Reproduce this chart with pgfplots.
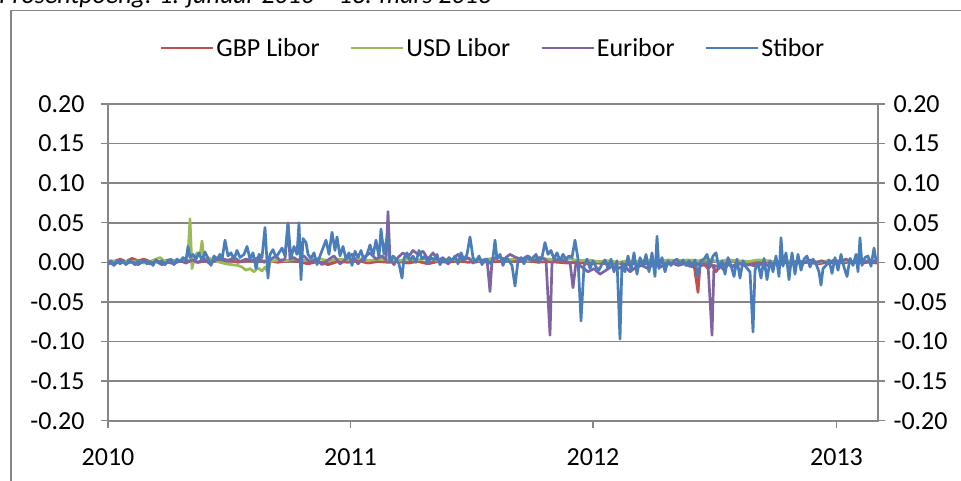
\documentclass[border=0pt]{standalone}
\usepackage{fontspec}
\setmainfont{Carlito}
\usepackage{pgfplots}
\pgfplotsset{compat=1.18}
\definecolor{gbp}{HTML}{C0504D}
\definecolor{usd}{HTML}{9BBB59}
\definecolor{eur}{HTML}{8064A2}
\definecolor{sti}{HTML}{4A7EBB}
\definecolor{gridg}{HTML}{868686}
\newcommand{\bigf}{\fontsize{26}{30}\selectfont}
\pgfplotsset{
  common/.style={
    at={(108pt,60.3pt)}, anchor=south west, scale only axis,
    width=770pt, height=316.8pt,
    xmin=0, xmax=770, ymin=-0.2, ymax=0.2,
    ytick={-0.2,-0.15,-0.1,-0.05,0,0.05,0.1,0.15,0.2},
    yticklabel style={/pgf/number format/fixed, /pgf/number format/fixed zerofill, /pgf/number format/precision=2, /pgf/number format/assume math mode=true},
    tick label style={font=\bigf},
    tick align=outside, major tick length=7pt,
    tick style={draw=gridg, line width=1.5pt},
    axis line style={draw=gridg, line width=1.8pt},
  }
}
\begin{document}
\begin{tikzpicture}[x=1pt,y=1pt]
\useasboundingbox (0,0) rectangle (961,481);
\draw[gridg, line width=1.5pt] (11,-20) rectangle (990,470.3);
\node[anchor=base west, font=\bigf\itshape, inner sep=0] at (-1,477.5) {Prosentpoeng. 1. januar 2010 -- 13. mars 2013};
\begin{axis}[common,
  xtick={0,242.5,485,728.5}, xticklabels={2010,2011,2012,2013},
  xtick pos=bottom, ytick pos=left,
  xticklabel style={yshift=-17pt},
  yticklabel style={xshift=-13pt},
  ymajorgrids, major grid style={draw=gridg, line width=1.8pt},
  legend columns=4,
  legend style={at={(0.5,1.176)}, anchor=center, draw=none, fill=none, font=\bigf,
    /tikz/every even column/.append style={column sep=28pt}},
  legend image code/.code={\draw[#1] (0pt,0pt) -- (52pt,0pt);},
  every axis plot/.append style={line width=2.7pt, line join=round},
]
\addplot[gbp] table {
0 0.002
6 0.000
12 0.004
18 0.001
24 0.005
30 0.002
36 0.004
42 0.001
48 0.002
54 0.000
60 0.003
70 0.001
80 0.002
90 0.000
100 0.002
110 0.001
120 0.003
130 0.000
140 0.002
150 0.001
160 0.002
170 0.000
180 0.002
190 0.001
200 -0.002
210 0.001
220 -0.003
230 0.001
240 0.000
250 0.002
260 -0.001
270 0.001
280 0.000
290 0.001
300 -0.001
310 0.001
320 -0.002
330 0.001
340 0.000
350 0.002
360 0.000
370 0.001
380 0.000
390 0.001
400 0.002
410 0.001
420 0.002
430 0.000
440 0.001
450 0.000
460 -0.001
470 0.000
480 -0.002
490 -0.001
500 -0.002
510 -0.001
520 -0.003
530 -0.001
540 -0.002
550 0.000
560 -0.001
570 -0.002
580 -0.001
586 -0.003
590 -0.038
592 -0.004
596 -0.002
600 -0.008
604 -0.003
608 -0.012
612 -0.004
616 -0.010
620 -0.002
625 -0.006
630 -0.001
640 -0.003
650 -0.001
660 0.000
670 -0.002
680 0.000
690 -0.001
700 0.000
710 -0.002
720 0.000
730 -0.001
740 0.000
750 -0.001
760 0.000
770 -0.001
};
\addlegendentry{GBP Libor}
\addplot[usd] table {
0 0.000
6 0.002
12 -0.001
18 0.001
24 0.000
30 0.002
36 -0.001
42 0.001
48 0.004
52 0.006
56 0.002
62 0.000
68 0.003
74 0.001
78 0.004
80 0.010
82 0.055
84 -0.008
86 0.004
89 0.012
92 0.008
94 0.027
96 0.004
100 0.006
106 0.002
112 0.000
118 -0.002
124 -0.003
130 -0.004
134 -0.006
138 -0.010
142 -0.008
146 -0.012
150 -0.007
154 -0.011
157 -0.006
160 -0.013
162 0.000
166 0.002
172 0.003
178 0.002
186 0.004
194 0.002
202 0.003
210 0.005
220 0.002
230 0.004
240 0.003
250 0.005
260 0.002
270 0.004
280 0.003
290 0.002
300 0.004
310 0.003
320 0.005
330 0.002
340 0.004
350 0.003
360 0.005
370 0.002
380 0.004
390 0.006
400 0.003
410 0.005
420 0.002
430 0.006
440 0.004
450 0.003
460 0.005
470 0.002
480 0.003
490 0.001
500 0.002
510 0.000
520 0.002
530 0.001
540 0.003
550 0.001
560 0.003
570 0.002
580 0.003
590 0.002
600 0.004
610 0.001
620 0.003
630 0.002
640 0.001
650 0.003
660 0.002
670 0.000
680 0.002
690 0.001
700 0.002
710 0.000
720 0.002
730 0.001
740 0.002
750 0.000
760 0.002
770 0.001
};
\addlegendentry{USD Libor}
\addplot[eur] table {
0 0.000
6 -0.003
12 0.002
18 -0.002
24 0.001
30 -0.003
36 0.002
42 -0.002
48 0.001
54 -0.003
60 0.000
66 -0.002
72 0.002
78 -0.001
84 0.003
90 0.000
96 0.004
102 -0.002
108 0.003
114 0.005
120 0.002
126 0.006
132 0.001
138 0.004
144 0.002
150 0.006
156 0.000
162 0.003
168 0.008
172 0.002
177 0.004
180 0.050
182 0.004
186 0.006
190 0.002
196 0.008
202 0.000
208 0.004
214 -0.003
220 0.003
226 0.008
232 -0.002
238 0.004
244 0.010
250 -0.002
256 0.006
262 0.012
268 0.004
274 0.008
278 0.003
280 0.064
282 0.004
286 -0.003
290 0.006
295 0.012
300 0.006
305 0.015
310 0.010
315 0.014
320 0.004
325 0.012
330 0.002
335 0.006
340 -0.002
345 0.004
350 0.010
355 0.002
360 0.006
365 -0.001
370 0.005
375 0.002
379 0.004
382 -0.037
384 0.002
390 0.008
396 0.004
402 0.010
408 0.006
414 0.004
420 0.008
426 0.002
432 0.006
438 0.003
442 -0.092
444 0.000
450 0.004
456 0.002
462 0.000
465 -0.032
468 0.000
474 -0.006
480 -0.012
486 -0.008
492 -0.015
498 -0.010
504 -0.005
510 -0.008
516 -0.004
522 -0.012
528 -0.006
534 -0.004
540 -0.008
546 -0.002
552 -0.006
558 -0.003
564 -0.001
570 -0.004
576 -0.002
582 -0.005
588 -0.002
594 -0.004
600 -0.002
604 -0.092
606 -0.004
612 -0.006
618 -0.002
624 -0.005
630 -0.001
636 -0.004
642 -0.003
648 -0.005
654 -0.002
660 -0.004
666 -0.001
672 -0.003
678 0.000
684 -0.002
690 0.002
696 -0.001
702 0.003
708 0.000
714 0.002
720 -0.002
726 0.003
732 0.001
738 0.004
744 0.000
750 0.002
756 -0.001
762 0.003
770 0.000
};
\addlegendentry{Euribor}
\addplot[sti] table {
0 -0.003
3 0.002
6 -0.004
9 0.003
12 -0.002
15 0.002
18 -0.003
21 0.003
24 0.000
27 -0.003
30 0.002
33 -0.001
36 0.003
39 -0.002
42 0.001
45 -0.004
48 0.003
51 -0.001
54 0.002
57 -0.003
60 0.002
63 0.004
66 -0.003
69 0.004
72 0.001
75 0.006
78 0.003
80 0.020
82 0.006
85 0.010
88 0.004
91 0.012
94 0.002
97 0.013
100 0.005
103 -0.004
106 0.008
109 0.004
112 0.010
114 0.003
117 0.028
120 0.008
123 0.012
126 0.004
129 0.015
132 0.006
136 0.010
139 0.020
142 0.004
145 0.012
148 -0.008
151 0.010
154 0.006
157 0.044
160 -0.020
162 0.010
165 0.016
168 0.006
171 0.012
174 0.018
177 0.008
180 0.048
183 0.005
186 0.020
189 0.010
191 0.050
193 -0.022
195 0.030
198 0.025
200 0.010
203 0.005
206 0.012
209 -0.003
212 0.008
215 0.018
218 0.028
221 0.010
224 0.038
227 0.015
229 0.032
232 0.008
235 0.020
238 0.004
241 0.012
244 -0.004
247 0.014
250 0.006
253 0.015
256 0.002
259 0.010
262 0.022
265 0.008
268 0.028
271 0.006
273 0.042
276 0.010
279 0.032
282 0.000
285 0.008
288 0.004
291 -0.002
294 -0.020
296 0.005
299 0.012
302 0.002
305 0.008
308 0.000
311 0.015
314 0.004
317 0.008
320 -0.002
323 0.006
326 0.003
329 0.010
332 -0.003
335 0.004
338 0.000
341 0.006
344 0.002
347 0.008
350 -0.002
353 0.012
356 0.003
359 0.010
362 0.032
365 0.006
368 0.000
371 0.008
374 -0.003
377 0.004
380 0.002
383 -0.002
385 0.006
387 0.028
389 0.004
392 0.010
395 -0.004
398 0.006
401 0.002
404 -0.004
407 -0.030
410 0.002
413 0.006
416 -0.002
419 0.008
422 0.003
425 0.006
428 0.010
431 0.000
434 0.006
437 0.025
440 0.010
443 0.015
446 0.004
449 0.012
452 0.002
455 0.010
458 0.004
461 0.008
464 0.006
467 0.028
470 0.004
473 -0.074
476 -0.005
479 0.004
482 -0.008
485 0.002
488 -0.006
491 -0.010
494 -0.002
497 0.003
500 -0.008
503 0.004
506 -0.012
509 0.002
512 -0.097
514 0.000
517 -0.012
520 0.008
523 -0.010
526 0.012
529 -0.015
532 0.006
535 -0.005
538 0.010
541 -0.012
544 0.012
547 -0.018
549 0.033
551 -0.008
554 0.006
557 -0.012
560 0.002
563 -0.004
566 0.002
569 0.004
572 -0.002
575 0.003
578 -0.004
581 0.002
584 -0.006
587 0.003
590 -0.018
593 0.002
596 0.004
599 0.010
602 -0.005
605 0.008
608 0.012
611 -0.008
614 0.002
617 -0.015
620 0.006
623 -0.004
626 -0.018
629 0.004
632 -0.020
635 0.002
638 -0.006
642 -0.012
645 -0.088
647 -0.010
650 0.000
653 -0.020
656 0.005
659 -0.022
662 0.002
665 -0.012
668 0.008
671 -0.018
673 0.031
675 -0.005
678 0.012
681 -0.022
684 0.012
687 -0.015
690 0.010
693 -0.010
696 0.004
699 0.008
702 -0.006
705 0.004
708 -0.002
711 -0.012
713 -0.029
715 -0.008
718 -0.004
721 0.003
724 -0.014
727 0.006
730 -0.010
733 0.010
736 -0.006
739 -0.018
742 0.005
745 -0.004
748 0.010
750 -0.012
752 0.031
754 -0.004
757 0.006
760 0.008
763 -0.005
766 0.018
768 0.002
770 0.005
};
\addlegendentry{Stibor}
\end{axis}
\begin{axis}[common,
  axis x line=none, axis y line*=right,
  ytick pos=right,
  yticklabel style={xshift=5pt},
]
\end{axis}
\end{tikzpicture}
\end{document}
